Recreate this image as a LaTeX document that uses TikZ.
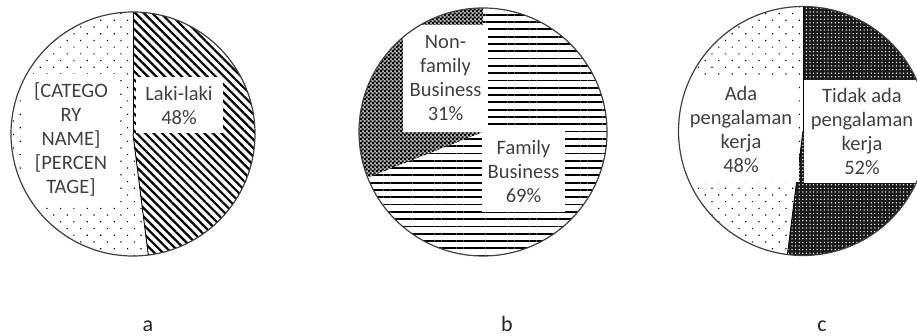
\documentclass[tikz,border=0pt]{standalone}
\usepackage{fontspec}
\setmainfont{Carlito}
\usetikzlibrary{patterns,patterns.meta}
\definecolor{lbl}{RGB}{64,64,64}
\pgfdeclarepatternformonly{finechecker}{\pgfpointorigin}{\pgfqpoint{4pt}{4pt}}{\pgfqpoint{4pt}{4pt}}{%
  \pgfpathrectangle{\pgfpointorigin}{\pgfqpoint{2.4pt}{2.4pt}}%
  \pgfpathrectangle{\pgfqpoint{2pt}{2pt}}{\pgfqpoint{2.4pt}{2.4pt}}%
  \pgfusepath{fill}}
\begin{document}
\begin{tikzpicture}[x=1pt,y=1pt,
  lab/.style={fill=white, inner sep=0pt, align=center, text=lbl, font=\fontsize{20.5}{24}\selectfont},
  ring/.style={draw=black!75, line width=1.2pt},
  divider/.style={draw=black, line width=0.9pt},
  sub/.style={font=\fontsize{22}{26}\selectfont, text=black!85, anchor=base},
  sparsedots/.style={pattern={Dots[angle=45,distance=9.5pt,radius=0.85pt]}, pattern color=black},
  hatch/.style={pattern={Lines[angle=-45,distance=6pt,line width=2.2pt]}, pattern color=black},
  hlines/.style={pattern={Lines[angle=0,distance=7.3pt,line width=1.8pt]}, pattern color=black},
  checker/.style={pattern=finechecker, pattern color=black},
  darkdots/.style={pattern={Dots[distance=3.6pt,radius=0.75pt]}, pattern color=white}]
\clip (0,0) rectangle (917,336);
\fill[white] (0,0) rectangle (917,336);

% ---------- pie a ----------
\coordinate (ca) at (133,202);
\fill[sparsedots] (ca) -- ++(90:122) arc[start angle=90,end angle=277.2,radius=122] -- cycle;
\fill[hatch] (ca) -- ++(90:122) arc[start angle=90,end angle=-82.8,radius=122] -- cycle;
\draw[divider] (ca) -- ++(90:122);
\draw[divider] (ca) -- ++(-82.8:122);
\node[lab, minimum width=96pt, minimum height=130pt] (aL) at (71,197) {{[}CATEGO\\RY\\NAME{]}\\{[}PERCEN\\TAGE{]}};
\node[lab, minimum width=87pt, minimum height=56pt] (aR) at (179,231) {Laki-laki\\48\%};
\draw[ring] (ca) circle[radius=122];

% ---------- pie b ----------
\coordinate (cb) at (483,204);
\fill[black!30] (cb) -- ++(90:124) arc[start angle=90,end angle=201.6,radius=124] -- cycle;
\fill[checker] (cb) -- ++(90:124) arc[start angle=90,end angle=201.6,radius=124] -- cycle;
\fill[hlines] (cb) -- ++(201.6:124) arc[start angle=201.6,end angle=450,radius=124] -- cycle;
\node[lab, minimum width=85pt, minimum height=107pt] (bN) at (445.5,257.5) {Non-\\family\\Business\\31\%};
\node[lab, minimum width=83pt, minimum height=82pt] (bF) at (523.5,165) {Family\\Business\\69\%};
\draw[ring] (cb) circle[radius=124];

% ---------- pie c ----------
\coordinate (cc) at (803,205);
\fill[sparsedots] (cc) -- ++(90:124.5) arc[start angle=90,end angle=262.8,radius=124.5] -- cycle;
\fill[black!90] (cc) -- ++(90:124.5) arc[start angle=90,end angle=-97.2,radius=124.5] -- cycle;
\fill[darkdots] (cc) -- ++(90:124.5) arc[start angle=90,end angle=-97.2,radius=124.5] -- cycle;
\draw[divider] (cc) -- ++(90:124.5);
\draw[divider] (cc) -- ++(-97.2:124.5);
\node[lab, minimum width=116pt, minimum height=105pt] (cA) at (741,206.5) {Ada\\pengalaman\\kerja\\48\%};
\node[lab, minimum width=116pt, minimum height=103pt] (cT) at (862,204.5) {Tidak ada\\pengalaman\\kerja\\52\%};
\draw[ring] (cc) circle[radius=124.5];

% ---------- captions ----------
\node[sub] (la) at (148,4) {a};
\node[sub] (lb) at (507,4) {b};
\node[sub] (lc) at (822,4) {c};
\end{tikzpicture}
\end{document}
